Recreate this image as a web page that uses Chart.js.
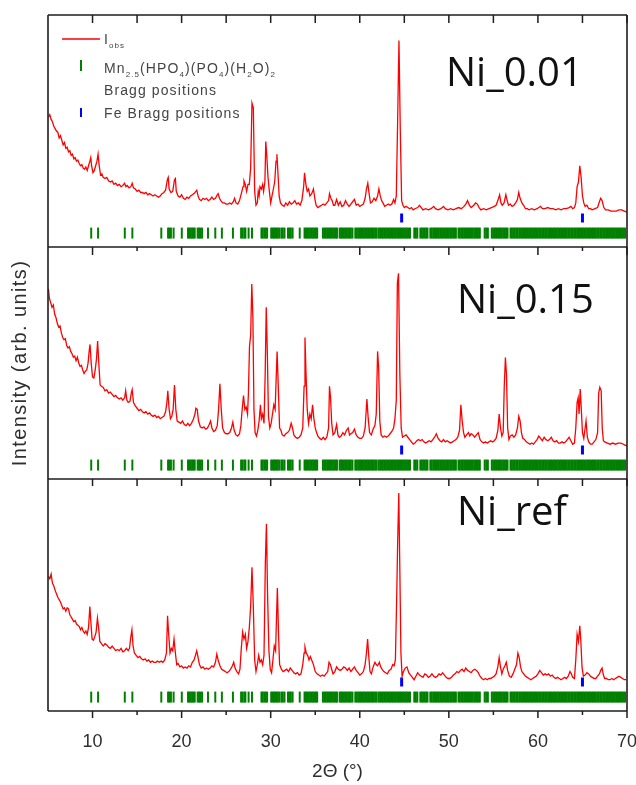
<!DOCTYPE html>
<html>
<head>
<meta charset="utf-8">
<script src="https://cdn.jsdelivr.net/npm/chart.js@4.4.1/dist/chart.umd.min.js"></script>
<style>
  html, body { margin: 0; padding: 0; background: #ffffff; }
  #wrap { position: relative; width: 636px; height: 785px; }
  canvas { display: block; }
</style>
</head>
<body>
<div id="wrap"><canvas id="xrd" width="636" height="785"></canvas></div>
<script>
// ---- data ---------------------------------------------------------------
const panelNames = ['Ni_0.01', 'Ni_0.15', 'Ni_ref'];
const xTickLabels = [10, 20, 30, 40, 50, 60, 70];
const xMinorTicks = [15, 25, 35, 45, 55, 65];

// observed intensity, [2theta, intensity] (arb. units, 0-100 per panel)
const ni001 = [
  [5.05,56],[5.2,57],[5.35,55],[5.5,54],[5.65,52],[5.8,51],[5.95,50],[6.1,49.5],[6.25,47],[6.4,48],
  [6.55,46],[6.7,44],[6.85,45],[7.0,42.5],[7.15,43],[7.3,41],[7.45,41.5],[7.6,39.5],[7.75,40],[7.9,38],
  [8.05,38.5],[8.2,37],[8.35,37.5],[8.5,36],[8.65,35],[8.8,35.5],[8.95,34],[9.1,33.5],[9.25,34.5],[9.4,33],
  [9.55,35],[9.7,37],[9.8,38.5],[9.9,35],[10.05,32],[10.2,33],[10.35,35],[10.5,37],[10.62,40],[10.75,35],
  [10.9,31],[11.05,31.5],[11.2,30],[11.4,29.5],[11.6,30],[11.8,28.5],[12.0,28],[12.2,28.5],[12.4,27],[12.6,27.5],
  [12.8,26.5],[13.0,27],[13.2,26],[13.4,26.5],[13.6,27.5],[13.75,26],[13.9,26.5],[14.1,25.5],[14.3,26],[14.45,27.5],
  [14.6,25.5],[14.8,25],[15.0,24],[15.2,24.5],[15.4,23.5],[15.6,23.5],[15.8,23],[16.0,23.5],[16.2,22.5],[16.4,23],
  [16.6,22.5],[16.8,22],[17.0,22.5],[17.2,22],[17.4,21.5],[17.6,22],[17.8,23],[18.0,23.5],[18.2,24.5],[18.4,29],
  [18.5,30],[18.6,25],[18.8,23.5],[19.0,24],[19.2,29],[19.3,29.5],[19.4,24],[19.6,22],[19.8,21.5],[20.0,22.5],
  [20.2,21],[20.4,20.5],[20.6,21.5],[20.8,21],[21.0,22],[21.2,22.5],[21.4,23],[21.6,24],[21.7,24.5],[21.85,22],
  [22.0,20.5],[22.2,20],[22.4,21],[22.6,20.5],[22.8,21],[23.0,20],[23.2,20.5],[23.4,21.5],[23.6,20.5],[23.8,21],
  [24.0,22.5],[24.1,23],[24.25,21],[24.4,20],[24.6,19],[24.8,19],[25.0,18.5],[25.2,18.5],[25.4,19],[25.6,18.5],
  [25.8,19.5],[25.95,21],[26.1,19],[26.3,18.5],[26.5,20],[26.7,23],[26.9,26],[27.0,28.5],[27.15,27],[27.3,24],
  [27.45,27],[27.6,27],[27.75,34],[27.9,62],[28.05,60],[28.2,24],[28.35,18],[28.5,19],[28.6,24],[28.7,22],
  [28.8,26],[28.95,25],[29.1,27],[29.2,24],[29.35,28],[29.45,45.5],[29.55,40],[29.7,30],[29.85,24],[30.0,19],
  [30.15,22],[30.3,25],[30.45,28],[30.6,37],[30.7,40],[30.8,33],[30.95,22],[31.1,19],[31.3,18],[31.5,17.5],
  [31.7,19],[31.9,18],[32.1,19.5],[32.3,18.5],[32.5,19],[32.7,20],[32.9,18.5],[33.1,19],[33.3,18],[33.5,20],
  [33.7,26],[33.8,32],[33.95,27],[34.1,24],[34.25,25],[34.4,22],[34.6,23],[34.8,25],[34.95,21],[35.1,18],
  [35.3,17],[35.5,17.5],[35.7,18],[35.9,18.5],[36.1,18],[36.3,19],[36.5,20],[36.6,23],[36.75,21],[36.9,20],
  [37.05,18],[37.2,18],[37.4,20.5],[37.6,18],[37.8,19.5],[38.0,17.5],[38.2,18],[38.4,20],[38.6,18.5],[38.8,17.5],
  [39.0,18.5],[39.2,19.5],[39.4,20.5],[39.6,18],[39.8,18.5],[40.0,17.5],[40.2,18],[40.4,18.5],[40.6,21],[40.75,25],
  [40.9,27.5],[41.05,23],[41.2,19],[41.4,19.5],[41.6,21],[41.8,20],[42.0,22],[42.15,25],[42.3,22],[42.45,20],
  [42.6,19],[42.8,17.5],[43.0,18],[43.2,18.5],[43.4,18],[43.6,18.5],[43.8,20.5],[43.95,19],[44.1,22],[44.25,54],
  [44.4,89],[44.55,50],[44.7,20],[44.85,18],[45.0,17],[45.2,17.5],[45.4,17],[45.6,16.5],[45.8,17],[46.0,16],
  [46.2,16.5],[46.5,17],[46.7,18],[46.9,17],[47.1,16],[47.4,16.5],[47.7,16],[48.0,16.5],[48.3,17.5],[48.5,16.5],
  [48.8,16],[49.1,16.5],[49.4,17.5],[49.6,16.5],[49.9,16],[50.2,16.5],[50.5,16],[50.8,16.5],[51.1,17],[51.4,16.5],
  [51.7,17.5],[51.9,18.5],[52.1,20],[52.3,18],[52.5,17],[52.8,18],[53.0,19],[53.2,18.5],[53.4,17],[53.6,16],
  [53.9,16.5],[54.2,16],[54.5,16.5],[54.8,17],[55.1,17.5],[55.3,18],[55.5,20],[55.7,22.5],[55.85,19],[56.0,18],
  [56.2,19],[56.4,22.5],[56.55,20],[56.7,18],[56.9,18.5],[57.1,17.5],[57.3,18],[57.5,19],[57.7,20.5],[57.85,23.5],
  [58.0,21],[58.2,19],[58.4,18],[58.6,16.5],[58.8,16.5],[59.0,16],[59.3,16.5],[59.6,16],[59.9,16.5],[60.1,17],
  [60.3,17.5],[60.5,16.5],[60.8,16.5],[61.1,17],[61.4,16.5],[61.7,16.5],[62.0,16],[62.3,16.5],[62.6,16],[62.9,16.5],
  [63.2,16.5],[63.5,17],[63.7,17.5],[63.9,16.5],[64.1,17],[64.25,19],[64.4,26],[64.55,28],[64.7,35],[64.85,30],
  [65.0,22],[65.15,19],[65.3,17.5],[65.5,18],[65.7,16.5],[65.9,16.5],[66.1,16],[66.4,16.5],[66.7,17],[66.9,19.5],
  [67.05,21],[67.2,20],[67.4,17],[67.6,16],[67.9,16],[68.2,15.5],[68.5,15.5],[68.8,15.5],[69.1,16],[69.4,16],
  [69.7,15.5],[70.0,15]
];

const ni015 = [
  [5.05,82],[5.15,78],[5.3,76],[5.45,74],[5.6,75],[5.75,71],[5.9,69.5],[6.05,67],[6.2,65.5],[6.35,66],
  [6.5,63],[6.65,61],[6.8,60],[6.95,60.5],[7.1,57.5],[7.25,56.5],[7.4,57],[7.55,55],[7.7,54],[7.85,52.5],
  [8.0,53],[8.15,51],[8.3,52.5],[8.45,50],[8.6,48.5],[8.75,49],[8.9,47],[9.05,45.5],[9.2,46.5],[9.35,47],
  [9.5,50],[9.62,55],[9.72,58],[9.85,50],[10.0,44],[10.15,43.5],[10.3,47],[10.45,52],[10.57,59.5],[10.7,50],
  [10.85,40.5],[11.0,40],[11.2,39.5],[11.4,38],[11.6,38.5],[11.8,37],[12.0,37.5],[12.2,36.5],[12.4,35.5],[12.6,36],
  [12.8,35],[13.0,34.5],[13.2,35],[13.4,34],[13.6,35],[13.72,38],[13.85,34],[14.0,33],[14.2,33.5],[14.35,37],
  [14.45,38.5],[14.6,33],[14.8,31.5],[15.0,30.5],[15.2,29.5],[15.4,30],[15.6,29],[15.8,28.5],[16.0,29],[16.2,28],
  [16.4,28.5],[16.6,27.5],[16.8,27],[17.0,27.5],[17.2,26.5],[17.4,27],[17.6,26],[17.8,26.5],[18.0,27],[18.2,29],
  [18.35,33],[18.45,38],[18.6,30],[18.75,26],[18.9,27],[19.05,30],[19.2,40.5],[19.35,30],[19.5,25],[19.7,24.5],
  [19.9,24],[20.1,25],[20.3,23.5],[20.5,23],[20.7,24],[20.9,23],[21.1,24],[21.3,25.5],[21.5,28],[21.6,30.5],
  [21.75,30],[21.9,25],[22.1,22.5],[22.3,22],[22.5,22.5],[22.7,21.5],[22.9,22],[23.1,23.5],[23.25,25],[23.4,22],
  [23.6,20.5],[23.8,21],[24.0,23],[24.15,30],[24.3,41],[24.45,30],[24.6,22],[24.8,20],[25.0,19.5],[25.2,19.5],
  [25.4,20],[25.6,22],[25.75,24.5],[25.9,21],[26.1,19],[26.3,18.5],[26.5,19.5],[26.65,23],[26.8,30],[26.95,36],
  [27.1,30],[27.25,31],[27.4,28],[27.5,37],[27.62,57],[27.75,62],[27.88,84],[28.0,70],[28.12,30],[28.25,20],
  [28.4,18.5],[28.55,21],[28.7,25],[28.85,32],[28.95,26],[29.1,28],[29.25,24],[29.38,45],[29.5,74],[29.62,55],
  [29.75,27],[29.9,22],[30.05,24],[30.2,28],[30.35,32],[30.5,30],[30.62,44],[30.72,55],[30.85,40],[31.0,22],
  [31.15,21],[31.3,19],[31.5,18.5],[31.7,19.5],[31.9,20],[32.1,21],[32.3,24],[32.45,22],[32.6,19],[32.8,18],
  [33.0,17.5],[33.2,18],[33.4,19],[33.6,22],[33.75,40],[33.85,61],[33.97,45],[34.1,30],[34.25,24],[34.4,28],
  [34.55,26],[34.7,32],[34.85,26],[35.0,22],[35.15,20],[35.3,18.5],[35.5,17.5],[35.7,17],[35.9,18],[36.1,17],
  [36.3,18],[36.5,22],[36.6,40],[36.72,35],[36.85,24],[37.0,19],[37.2,20],[37.4,23.5],[37.55,19],[37.7,18],
  [37.9,18.5],[38.1,20],[38.3,19],[38.5,21],[38.7,22],[38.85,19],[39.0,19.5],[39.2,20],[39.4,21.5],[39.6,19],
  [39.8,18],[40.0,17.5],[40.2,17.5],[40.4,18.5],[40.6,22],[40.8,34.5],[40.95,26],[41.1,20],[41.3,19],[41.5,21.5],
  [41.7,23],[41.85,28],[42.0,55],[42.12,48],[42.25,25],[42.4,19],[42.6,18],[42.8,18.5],[43.0,18],[43.2,18.5],
  [43.4,19.5],[43.6,20.5],[43.8,22],[43.95,26],[44.1,34],[44.22,84.5],[44.35,88.7],[44.5,45],[44.65,22],[44.8,18],
  [45.0,18.5],[45.2,19],[45.4,18],[45.6,17],[45.8,16],[46.0,15],[46.2,15.5],[46.4,16.5],[46.6,17],[46.8,16.5],
  [47.0,17],[47.2,16],[47.4,15.5],[47.6,16],[47.8,16.5],[48.0,16],[48.2,17],[48.4,18],[48.6,19.5],[48.8,17.5],
  [49.0,16.5],[49.2,16],[49.4,17],[49.6,16],[49.8,16.5],[50.0,16],[50.2,15.5],[50.4,16],[50.6,16.5],[50.8,17],
  [51.0,18],[51.2,21],[51.35,32],[51.5,25],[51.65,20],[51.8,18],[52.0,19],[52.2,20],[52.35,18.5],[52.5,19.5],
  [52.7,19],[52.9,18],[53.1,19],[53.3,20],[53.5,17],[53.7,16],[53.9,15.5],[54.1,16],[54.3,15.5],[54.5,16],
  [54.7,16.5],[54.9,16],[55.1,16.5],[55.3,17.5],[55.5,21],[55.65,28],[55.8,22],[55.95,18.5],[56.1,20],[56.22,40],
  [56.35,52.4],[56.47,45],[56.6,22],[56.75,17],[56.9,18.5],[57.1,19],[57.3,18],[57.5,19],[57.7,22],[57.85,27],
  [58.0,25],[58.15,20],[58.3,17.5],[58.5,17],[58.7,16],[58.9,15.5],[59.1,15],[59.3,15.5],[59.5,15],[59.7,16],
  [59.9,17],[60.1,18.5],[60.3,17.5],[60.5,16.5],[60.7,18],[60.9,17],[61.1,16.5],[61.3,17],[61.5,18],[61.7,16.5],
  [61.9,16],[62.1,16.5],[62.3,15.5],[62.5,15.5],[62.7,16],[62.9,15.5],[63.1,16],[63.3,17],[63.5,18],[63.7,16.5],
  [63.9,15],[64.1,15.5],[64.25,22],[64.4,33],[64.52,35],[64.62,28],[64.75,38.8],[64.87,30],[65.0,20],[65.15,17.5],
  [65.3,22],[65.4,25],[65.55,18],[65.7,16],[65.9,15],[66.1,15],[66.3,16],[66.5,17],[66.7,20],[66.82,37],
  [66.95,39.5],[67.1,38],[67.22,22],[67.35,16.5],[67.5,16],[67.8,15.5],[68.1,15],[68.4,15.5],[68.7,15],[69.0,15.5],
  [69.3,15.5],[69.6,15],[69.8,14.5],[70.0,14.5]
];

const niRef = [
  [5.05,58],[5.2,57],[5.35,59],[5.5,55],[5.65,54],[5.8,52],[5.95,50.5],[6.1,49],[6.25,48],[6.4,47],
  [6.55,45.5],[6.7,44],[6.85,44.5],[7.0,43],[7.15,44.5],[7.3,44],[7.45,41.5],[7.6,40.5],[7.75,39.5],[7.9,38.5],
  [8.05,39],[8.2,37.5],[8.35,37],[8.5,36.5],[8.65,35],[8.8,36],[8.95,34.5],[9.1,33.5],[9.25,34.5],[9.4,33],
  [9.55,36],[9.7,45],[9.82,38],[9.95,31],[10.1,30.5],[10.25,32],[10.4,34],[10.55,40],[10.68,36],[10.82,30],
  [11.0,29],[11.2,28],[11.4,29],[11.6,28.5],[11.8,27.5],[12.0,27],[12.2,28],[12.4,27],[12.6,26],[12.8,26.5],
  [13.0,26],[13.2,27],[13.4,25.5],[13.6,26],[13.8,27],[14.0,26],[14.15,27],[14.3,32],[14.42,35],[14.55,28],
  [14.7,25],[14.9,24],[15.1,23],[15.3,23.5],[15.5,22.5],[15.7,22],[15.9,22.5],[16.1,21.5],[16.3,22],[16.5,21],
  [16.7,21.5],[16.9,21],[17.1,21],[17.3,21.5],[17.5,21],[17.7,21.5],[17.9,21],[18.1,22],[18.3,25],[18.42,41],
  [18.55,33],[18.7,25],[18.85,27],[19.0,26],[19.15,31],[19.3,25],[19.45,20],[19.6,20.5],[19.8,19],[20.0,19.5],
  [20.2,18.5],[20.4,19],[20.6,18.5],[20.8,19.5],[21.0,19],[21.2,21],[21.4,22],[21.55,24],[21.7,26],[21.85,23],
  [22.0,20],[22.2,18.5],[22.4,19],[22.6,18],[22.8,18.5],[23.0,18],[23.2,18.5],[23.4,19.5],[23.6,19],[23.8,21],
  [23.95,24.5],[24.1,22],[24.3,19.5],[24.5,18],[24.7,17.5],[24.9,17],[25.1,16.5],[25.3,17],[25.5,18],[25.7,19.5],
  [25.85,21],[26.0,18.5],[26.2,17],[26.4,16],[26.55,18],[26.7,27],[26.85,34],[27.0,31],[27.15,33],[27.3,27],
  [27.45,30],[27.6,36],[27.75,45],[27.9,62],[28.05,45],[28.2,22],[28.35,17],[28.5,20],[28.65,24],[28.8,21],
  [28.95,22],[29.1,20],[29.25,24],[29.4,64],[29.52,80.7],[29.65,50],[29.8,26],[29.95,18],[30.1,16.5],[30.25,22],
  [30.4,28],[30.55,26],[30.65,40],[30.75,53],[30.88,33],[31.0,20],[31.2,18],[31.4,17],[31.6,17.5],[31.8,18],
  [32.0,17],[32.2,18.5],[32.4,17.5],[32.6,16.5],[32.8,16],[33.0,16.5],[33.2,15.5],[33.4,16],[33.6,20],[33.75,25],
  [33.85,27.5],[34.0,25],[34.15,24],[34.3,22],[34.45,23.5],[34.6,22],[34.8,20],[35.0,17],[35.2,16],[35.4,15.5],
  [35.6,15],[35.8,15.5],[36.0,15],[36.2,16],[36.4,17],[36.55,21],[36.7,20],[36.85,18],[37.0,16],[37.2,17],
  [37.4,19],[37.6,18],[37.8,17.5],[38.0,18],[38.2,19],[38.4,18.5],[38.6,17.5],[38.8,18.5],[39.0,17],[39.2,18],
  [39.4,19],[39.6,17.5],[39.8,16.5],[40.0,15.5],[40.2,16],[40.4,17],[40.6,20],[40.75,25],[40.88,31],[41.0,24],
  [41.15,17],[41.3,16],[41.5,19],[41.7,21],[41.85,20],[42.0,19.5],[42.2,21],[42.35,19],[42.5,18],[42.7,17],
  [42.9,16.5],[43.1,16],[43.3,17.5],[43.5,18],[43.7,20],[43.85,19.5],[44.0,22],[44.15,50],[44.25,72],[44.38,94],
  [44.5,60.5],[44.62,25],[44.75,15],[44.9,17],[45.1,18.5],[45.3,19],[45.5,16.5],[45.7,15.5],[45.9,14.5],[46.1,13.5],
  [46.3,15],[46.5,16.5],[46.7,15.5],[46.9,15],[47.1,14.5],[47.3,16],[47.5,15.5],[47.7,14.5],[47.9,15],[48.1,16],
  [48.3,15],[48.5,14.5],[48.7,15],[48.9,16],[49.1,15.5],[49.3,16.5],[49.5,15.5],[49.7,14.5],[49.9,14],[50.1,14],
  [50.3,14.5],[50.5,15.5],[50.7,16],[50.9,17],[51.1,16.5],[51.3,17.5],[51.5,18],[51.7,17],[51.9,18.5],[52.1,17.5],
  [52.3,17],[52.5,16.5],[52.7,17.5],[52.9,18],[53.1,17.5],[53.3,16.5],[53.5,15],[53.7,14],[53.9,13.5],[54.1,14],
  [54.3,13.5],[54.5,14],[54.7,14],[54.9,14.5],[55.1,15],[55.3,16],[55.5,19],[55.65,23],[55.8,19],[55.95,16],
  [56.1,18],[56.3,19.5],[56.45,21],[56.6,17.5],[56.8,15],[57.0,14.5],[57.2,16],[57.4,18],[57.6,20],[57.75,25],
  [57.9,23],[58.05,19],[58.2,17],[58.4,16],[58.6,15],[58.8,14.5],[59.0,14],[59.2,13.5],[59.4,14],[59.6,14.5],
  [59.8,15],[60.0,16],[60.2,17.5],[60.4,16.5],[60.6,15.5],[60.8,16],[61.0,15.5],[61.2,16],[61.4,15],[61.6,15.5],
  [61.8,14.5],[62.0,14],[62.2,14.5],[62.4,14],[62.6,13.5],[62.8,14],[63.0,14.5],[63.2,14],[63.4,15],[63.6,17],
  [63.75,16],[63.9,14.5],[64.1,14],[64.25,22],[64.4,33],[64.55,30],[64.7,36.7],[64.82,30],[64.95,19],[65.1,15],
  [65.3,15.5],[65.5,16.5],[65.7,16],[65.9,15],[66.1,14.5],[66.3,14],[66.5,14],[66.7,15],[66.9,16],[67.05,17.5],
  [67.2,18.5],[67.35,15.5],[67.5,14],[67.7,14],[67.9,13.5],[68.1,13.5],[68.3,14],[68.5,13.5],[68.7,14],[68.9,14.5],
  [69.1,15],[69.3,14.5],[69.5,14],[69.7,13.5],[69.9,13.5]
];

// Bragg reflections, 2theta
const mnBragg = [
  9.85, 10.62, 13.62, 14.47, 17.72, 18.48, 18.62, 18.8, 19.1, 20.02,
  20.72, 20.88, 21.02, 21.18, 21.33, 21.47, 21.8, 21.96, 22.12, 22.3,
  22.96, 23.78, 24.52, 25.76, 26.68, 26.84, 27.04, 27.16, 27.52, 27.9,
  28.96, 29.1, 29.28, 29.44, 29.6, 30.06, 30.2, 30.36, 30.5, 30.66,
  30.8, 30.97, 31.2, 31.36, 31.55, 31.94, 32.1, 32.26, 32.46, 33.26,
  33.8, 33.96, 34.12, 34.28, 34.44, 34.6, 34.76, 34.92, 35.08, 35.22,
  35.86, 36.02, 36.18, 36.34, 36.5, 36.66, 36.82, 36.98, 37.14, 37.3,
  37.44, 37.74, 37.9, 38.05, 38.21, 38.36, 38.52, 38.69, 38.84, 39.0,
  39.18, 39.5, 39.66, 39.83, 39.98, 40.14, 40.31, 40.46, 40.62, 40.79,
  40.94, 41.1, 41.27, 41.42, 41.58, 41.75, 41.9, 42.13, 42.29, 42.44,
  42.6, 42.77, 42.92, 43.08, 43.24, 43.4, 43.56, 43.72, 43.88, 44.04,
  44.2, 44.36, 44.52, 44.68, 44.84, 45.0, 45.16, 45.32, 45.48, 45.64,
  46.12, 46.29, 46.46, 46.8, 46.96, 47.12, 47.29, 47.45, 47.6, 47.92,
  48.08, 48.25, 48.4, 48.56, 48.73, 48.88, 49.04, 49.21, 49.36, 49.52,
  49.69, 49.84, 50.0, 50.17, 50.32, 50.48, 50.65, 50.79, 51.08, 51.24,
  51.41, 51.56, 51.72, 51.89, 52.04, 52.2, 52.37, 52.52, 52.68, 52.85,
  53.0, 53.16, 53.33, 53.48, 54.02, 54.2, 54.38, 54.82, 54.98, 55.15,
  55.3, 55.46, 55.63, 55.78, 55.94, 56.11, 56.26, 56.42, 56.59, 56.92,
  57.08, 57.25, 57.4, 57.57, 57.72, 57.9, 58.05, 58.22, 58.38, 58.55,
  58.7, 58.87, 59.02, 59.2, 59.35, 59.52, 59.68, 59.84, 60.0, 60.17,
  60.33, 60.5, 60.66, 60.82, 60.98, 61.15, 61.3, 61.47, 61.63, 61.8,
  61.95, 62.12, 62.28, 62.45, 62.6, 62.77, 62.93, 63.1, 63.25, 63.42,
  63.58, 63.75, 63.9, 64.07, 64.23, 64.4, 64.55, 64.72, 64.88, 65.05,
  65.2, 65.37, 65.53, 65.7, 65.85, 66.02, 66.18, 66.35, 66.5, 66.67,
  66.83, 67.0, 67.15, 67.32, 67.48, 67.65, 67.8, 67.97, 68.13, 68.3,
  68.45, 68.62, 68.78, 68.95, 69.1, 69.27, 69.43, 69.6, 69.78
];
const feBragg = [44.7, 65.0];
const mnTickLevel = 6;
const feTickLevel = 12.5;

// ---- styles -------------------------------------------------------------
const RED = '#ff0000';
const GREEN = '#008000';
const BLUE = '#0000ff';
const FRAME = '#1e1e1e';
const TEXT = '#2e2e2e';
const SANS = '"Liberation Sans", Arial, sans-serif';

const panelAxes = ['yTop', 'yMid', 'yBot'];
const panelSeries = [ni001, ni015, niRef];

const datasets = [];
panelSeries.forEach((series, i) => {
  const axis = panelAxes[i];
  datasets.push({
    label: panelNames[i],
    data: series.map(([x, y]) => ({ x, y })),
    yAxisID: axis,
    showLine: true,
    borderColor: RED,
    borderWidth: 1.3,
    pointRadius: 0,
    tension: 0,
    order: 1
  });
  datasets.push({
    label: 'Mn Bragg ' + panelNames[i],
    data: mnBragg.map(x => ({ x, y: mnTickLevel })),
    yAxisID: axis,
    showLine: false,
    pointStyle: 'line',
    rotation: 90,
    radius: 5.5,
    borderColor: GREEN,
    backgroundColor: GREEN,
    borderWidth: 2,
    order: 2
  });
  datasets.push({
    label: 'Fe Bragg ' + panelNames[i],
    data: feBragg.map(x => ({ x, y: feTickLevel })),
    yAxisID: axis,
    showLine: false,
    pointStyle: 'line',
    rotation: 90,
    radius: 4.5,
    borderColor: BLUE,
    backgroundColor: BLUE,
    borderWidth: 3,
    order: 2
  });
});

// stacked panel axes share the plot height; highest weight sits on top
const panelScale = (w) => ({
  type: 'linear', position: 'left', stack: 'panels', stackWeight: 1, weight: w,
  min: 0, max: 100, display: false
});

// frame, inner separators, tick marks and annotation text
const framePlugin = {
  id: 'framePlugin',
  afterDatasetsDraw(chart) {
    const ctx = chart.ctx;
    const xs = chart.scales.x;
    const top = chart.scales.yTop, mid = chart.scales.yMid, bot = chart.scales.yBot;
    const L = xs.left, R = xs.right;
    ctx.save();
    ctx.strokeStyle = FRAME;
    ctx.lineWidth = 1.6;
    const lines = [
      { y: top.top, major: 8, minor: 8 },
      { y: top.bottom, major: 8, minor: 4 },
      { y: mid.bottom, major: 7, minor: 7 },
      { y: bot.bottom, major: 7, minor: 4 }
    ];
    ctx.beginPath();
    lines.forEach(l => { ctx.moveTo(L, l.y); ctx.lineTo(R, l.y); });
    ctx.moveTo(L, top.top); ctx.lineTo(L, bot.bottom);
    ctx.moveTo(R, top.top); ctx.lineTo(R, bot.bottom);
    ctx.stroke();
    ctx.lineWidth = 1.5;
    ctx.beginPath();
    lines.forEach(l => {
      xTickLabels.forEach(v => {
        const px = xs.getPixelForValue(v);
        ctx.moveTo(px, l.y); ctx.lineTo(px, l.y + l.major);
      });
      xMinorTicks.forEach(v => {
        const px = xs.getPixelForValue(v);
        ctx.moveTo(px, l.y); ctx.lineTo(px, l.y + l.minor);
      });
    });
    ctx.stroke();

    // panel names
    ctx.fillStyle = '#111';
    ctx.font = '40px "Open Sans", "Noto Sans", sans-serif';
    ctx.textBaseline = 'alphabetic';
    ctx.textAlign = 'left';
    ctx.fillText(panelNames[0], 446, 86);
    ctx.fillText(panelNames[1], 457, 313);
    ctx.fillText(panelNames[2], 457, 525);

    // legend
    ctx.strokeStyle = RED; ctx.lineWidth = 1.5;
    ctx.beginPath(); ctx.moveTo(62, 39); ctx.lineTo(100, 39); ctx.stroke();
    ctx.strokeStyle = GREEN; ctx.lineWidth = 2;
    ctx.beginPath(); ctx.moveTo(81, 60); ctx.lineTo(81, 71); ctx.stroke();
    ctx.strokeStyle = BLUE;
    ctx.beginPath(); ctx.moveTo(81, 108); ctx.lineTo(81, 117); ctx.stroke();

    ctx.fillStyle = '#454545';
    if ('letterSpacing' in ctx) ctx.letterSpacing = '1.1px';
    const rich = (parts, x, y) => {
      parts.forEach(([t, sub]) => {
        ctx.font = sub ? '8px ' + SANS : '14px ' + SANS;
        ctx.fillText(t, x, sub ? y + 4 : y);
        x += ctx.measureText(t).width;
      });
    };
    rich([['I', 0], ['obs', 1]], 104, 44);
    rich([['Mn', 0], ['2.5', 1], ['(HPO', 0], ['4', 1], [')(PO', 0], ['4', 1], [')(H', 0], ['2', 1], ['O)', 0], ['2', 1]], 104, 73);
    rich([['Bragg positions', 0]], 104, 95);
    rich([['Fe Bragg positions', 0]], 104, 118);

    // vertical axis title
    ctx.fillStyle = TEXT;
    ctx.font = '20px ' + SANS;
    if ('letterSpacing' in ctx) ctx.letterSpacing = '1.4px';
    ctx.translate(20, (top.top + bot.bottom) / 2);
    ctx.rotate(-Math.PI / 2);
    ctx.textAlign = 'center';
    ctx.textBaseline = 'middle';
    ctx.fillText('Intensity (arb. units)', 0, 0);
    ctx.restore();
  }
};

new Chart(document.getElementById('xrd'), {
  type: 'scatter',
  data: { datasets },
  options: {
    responsive: false,
    devicePixelRatio: 1,
    animation: false,
    events: [],
    layout: { padding: { left: 48, right: 9, top: 15, bottom: 0 } },
    plugins: { legend: { display: false }, tooltip: { enabled: false } },
    scales: {
      x: {
        type: 'linear', position: 'bottom', min: 5, max: 70,
        afterBuildTicks: (s) => { s.ticks = xTickLabels.map(v => ({ value: v })); },
        afterFit: (s) => { s.paddingLeft = 0; s.paddingRight = 0; s.height = 74; },
        grid: { display: false, drawTicks: false },
        border: { display: false },
        ticks: {
          autoSkip: false, maxRotation: 0, padding: 20,
          color: TEXT, font: { family: SANS, size: 18 }
        },
        title: {
          display: true, text: '2\u0398 (\u00b0)', color: TEXT,
          font: { family: SANS, size: 19 }, padding: { top: 9, bottom: 2 }
        }
      },
      yBot: panelScale(1),
      yMid: panelScale(2),
      yTop: panelScale(3)
    }
  },
  plugins: [framePlugin]
});
</script>
</body>
</html>
